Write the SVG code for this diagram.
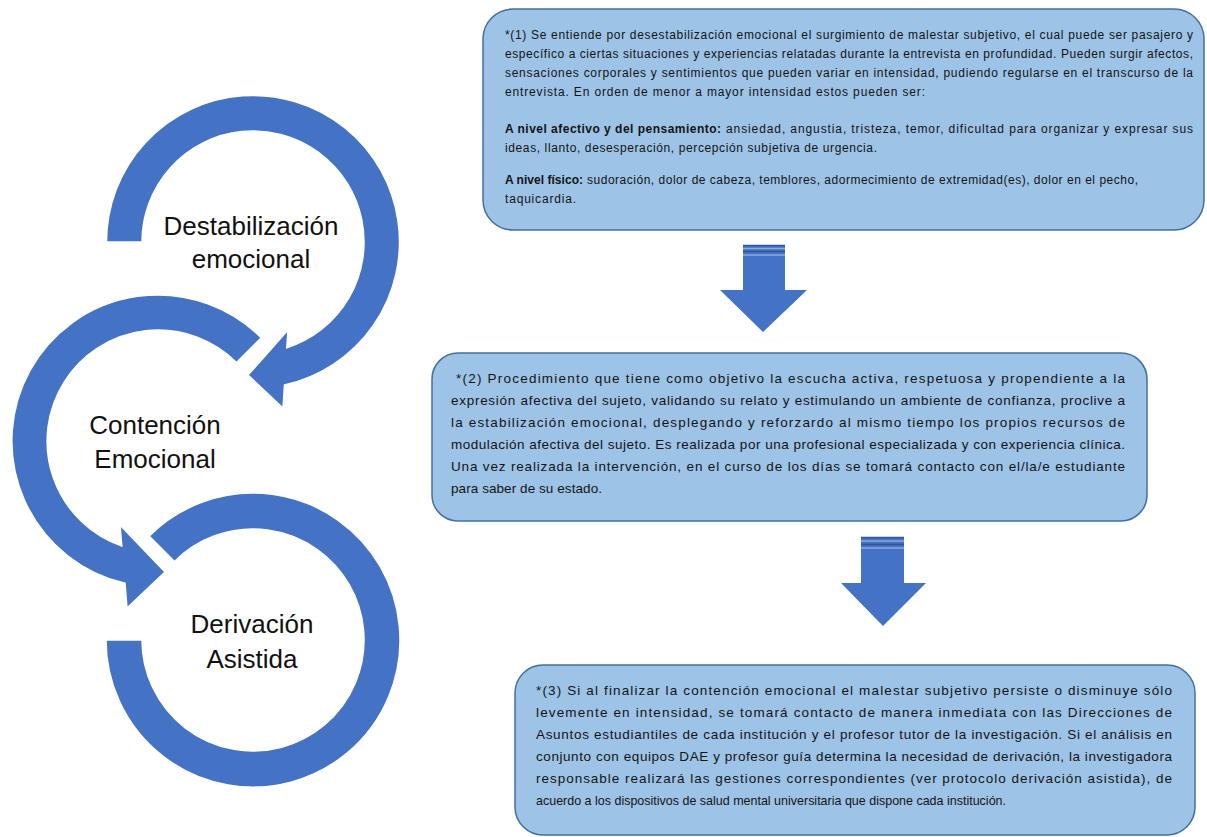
<svg xmlns="http://www.w3.org/2000/svg" width="1207" height="837" viewBox="0 0 1207 837">
<style>
.arc{fill:#4472C4;stroke:#ffffff;stroke-width:1.5;stroke-linejoin:miter}
.lbl{font-family:"Liberation Sans",Arial,sans-serif;font-size:26px;fill:#111;text-anchor:middle}
.box{fill:#9DC3E6;stroke:#41719C;stroke-width:1.5}
.t1{font-family:"Liberation Sans",Arial,sans-serif;font-size:12px;fill:#141414}
.t2{font-family:"Liberation Sans",Arial,sans-serif;font-size:13.5px;fill:#141414}
.b{font-weight:bold}
.dn{fill:#4472C4}
.stripe{stroke:#8eaadb;stroke-width:1.5}
.stripeD{stroke:#2F5597;stroke-width:1.5}
</style>
<rect width="1207" height="837" fill="#ffffff"/>

<g id="cycle-derivacion">
<path class="arc" d="M106,640 A147,147 0 1 0 149.1,536.1 L174.5,561.5 A111,111 0 1 1 142,640 Z"/>
<text class="lbl" x="252" y="633">Derivación</text>
<text class="lbl" x="252" y="668">Asistida</text>
</g>

<g id="cycle-contencion">
<path class="arc" d="M261.2,337.8 A146,146 0 1 0 125,583.2 L127,608 L165,572 L120,525 L121.8,546 A111,111 0 1 1 236.5,362.5 Z"/>
<text class="lbl" x="155" y="434">Contención</text>
<text class="lbl" x="155" y="468">Emocional</text>
</g>

<g id="cycle-destabilizacion">
<path class="arc" d="M106.5,242 A146.5,146.5 0 1 1 284.5,385 L283,408 L248,375 L288,330 L286.8,347.7 A111,111 0 1 0 142,242 Z"/>
<text class="lbl" x="251" y="235">Destabilización</text>
<text class="lbl" x="251" y="268">emocional</text>
</g>

<g id="box1">
<rect class="box" x="483" y="9" width="721" height="221" rx="30" ry="30"/>
<text class="t1" x="505" y="39" textLength="688" lengthAdjust="spacing">*(1) Se entiende por desestabilización emocional el surgimiento de malestar subjetivo, el cual puede ser pasajero y</text>
<text class="t1" x="505" y="58" textLength="688" lengthAdjust="spacing">específico a ciertas situaciones y experiencias relatadas durante la entrevista en profundidad. Pueden surgir afectos,</text>
<text class="t1" x="505" y="77" textLength="688" lengthAdjust="spacing">sensaciones corporales y sentimientos que pueden variar en intensidad, pudiendo regularse en el transcurso de la</text>
<text class="t1" x="505" y="96" textLength="420" lengthAdjust="spacing">entrevista. En orden de menor a mayor intensidad estos pueden ser:</text>
<text class="t1 b" x="505" y="133" textLength="216" lengthAdjust="spacing">A nivel afectivo y del pensamiento:</text>
<text class="t1" x="726" y="133" textLength="467" lengthAdjust="spacing">ansiedad, angustia, tristeza, temor, dificultad para organizar y expresar sus</text>
<text class="t1" x="505" y="152" textLength="372" lengthAdjust="spacing">ideas, llanto, desesperación, percepción subjetiva de urgencia.</text>
<text class="t1 b" x="505" y="184" textLength="78" lengthAdjust="spacing">A nivel físico:</text>
<text class="t1" x="587" y="184" textLength="551" lengthAdjust="spacing">sudoración, dolor de cabeza, temblores, adormecimiento de extremidad(es), dolor en el pecho,</text>
<text class="t1" x="505" y="203" textLength="71" lengthAdjust="spacing">taquicardia.</text>
</g>

<g id="box2">
<rect class="box" x="432" y="353" width="715" height="168" rx="26" ry="26"/>
<text class="t2" x="456" y="383" textLength="669" lengthAdjust="spacing">*(2) Procedimiento que tiene como objetivo la escucha activa, respetuosa y propendiente a la</text>
<text class="t2" x="451" y="405" textLength="674" lengthAdjust="spacing">expresión afectiva del sujeto, validando su relato y estimulando un ambiente de confianza, proclive a</text>
<text class="t2" x="451" y="427" textLength="674" lengthAdjust="spacing">la estabilización emocional, desplegando y reforzardo al mismo tiempo los propios recursos de</text>
<text class="t2" x="451" y="449" textLength="674" lengthAdjust="spacing">modulación afectiva del sujeto. Es realizada por una profesional especializada y con experiencia clínica.</text>
<text class="t2" x="451" y="471" textLength="674" lengthAdjust="spacing">Una vez realizada la intervención, en el curso de los días se tomará contacto con el/la/e estudiante</text>
<text class="t2" x="451" y="493" textLength="151" lengthAdjust="spacing">para saber de su estado.</text>
</g>

<g id="box3">
<rect class="box" x="515" y="665" width="680" height="170" rx="28" ry="28"/>
<text class="t2" x="536" y="695" textLength="636" lengthAdjust="spacing">*(3) Si al finalizar la contención emocional el malestar subjetivo persiste o disminuye sólo</text>
<text class="t2" x="536" y="717" textLength="636" lengthAdjust="spacing">levemente en intensidad, se tomará contacto de manera inmediata con las Direcciones de</text>
<text class="t2" x="536" y="739" textLength="636" lengthAdjust="spacing">Asuntos estudiantiles de cada institución y el profesor tutor de la investigación. Si el análisis en</text>
<text class="t2" x="536" y="761" textLength="636" lengthAdjust="spacing">conjunto con equipos DAE y profesor guía determina la necesidad de derivación, la investigadora</text>
<text class="t2" x="536" y="783" textLength="636" lengthAdjust="spacing">responsable realizará las gestiones correspondientes (ver protocolo derivación asistida), de</text>
<text class="t2" x="536" y="805" textLength="470" lengthAdjust="spacingAndGlyphs">acuerdo a los dispositivos de salud mental universitaria que dispone cada institución.</text>
</g>

<g id="connectors">
<g id="arrow1">
<path class="dn" d="M743,245 H785 V290 H807 L763,332 L720,290 H743 Z"/>
<line class="stripeD" x1="743" y1="245.5" x2="785" y2="245.5"/>
<line class="stripe" x1="743" y1="248.5" x2="785" y2="248.5"/>
<line class="stripeD" x1="743" y1="251.5" x2="785" y2="251.5"/>
<line class="stripe" x1="743" y1="255" x2="785" y2="255"/>
</g>
<g id="arrow2">
<path class="dn" d="M861,537 H904 V583 H926 L883,626 L841,583 H861 Z"/>
<line class="stripeD" x1="861" y1="537.5" x2="904" y2="537.5"/>
<line class="stripe" x1="861" y1="541" x2="904" y2="541"/>
<line class="stripeD" x1="861" y1="544.5" x2="904" y2="544.5"/>
<line class="stripe" x1="861" y1="548" x2="904" y2="548"/>
</g>
</g>
</svg>
